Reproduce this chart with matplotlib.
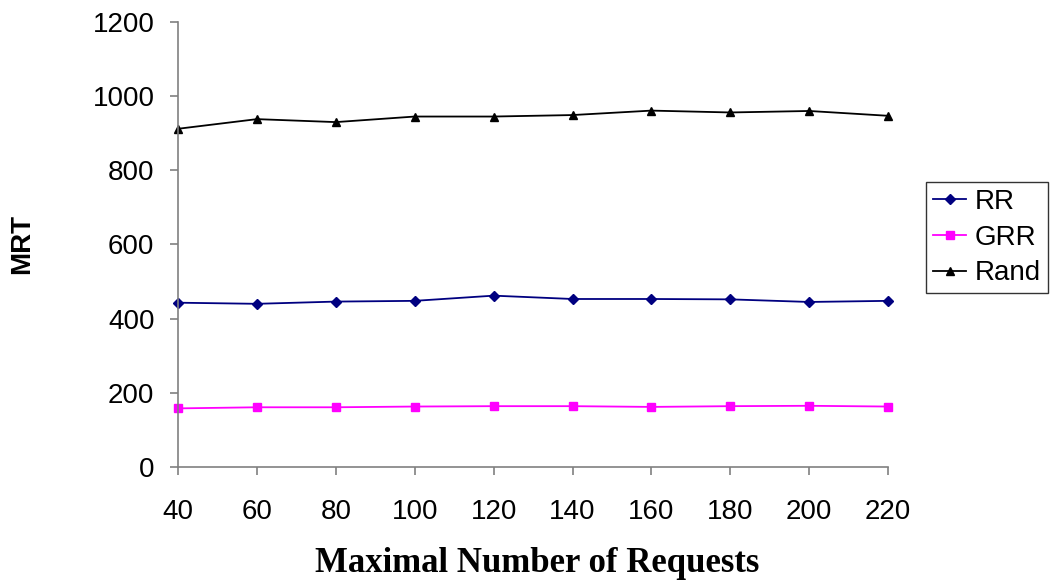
import matplotlib.pyplot as plt

plt.rcParams["font.family"] = ["Liberation Sans", "DejaVu Sans"]

requests = [40, 60, 80, 100, 120, 140, 160, 180, 200, 220]
rr = [443, 440, 446, 448, 462, 453, 453, 452, 445, 448]
grr = [158, 161, 161, 163, 164, 164, 162, 164, 165, 163]
rand = [912, 938, 930, 945, 945, 949, 961, 956, 960, 947]

y_ticks = [0, 200, 400, 600, 800, 1000, 1200]


def main():
    fig = plt.figure(figsize=(10.51, 5.86), dpi=100)
    ax = fig.add_axes([0.1694, 0.2031, 0.6756, 0.7594])

    ax.plot(requests, rr, color="#000080", marker="D", markersize=5,
            linewidth=1.3, label="RR", clip_on=False)
    ax.plot(requests, grr, color="#FF00FF", marker="s", markersize=6,
            linewidth=1.3, label="GRR", clip_on=False)
    ax.plot(requests, rand, color="black", marker="^", markersize=6,
            linewidth=1.3, label="Rand", clip_on=False)

    ax.set_xlim(40, 220)
    ax.set_ylim(0, 1200)
    ax.set_xticks(requests)
    ax.set_yticks(y_ticks)
    ax.tick_params(axis="both", labelsize=20, direction="out", length=6,
                   color="#808080", width=1.2)
    ax.tick_params(axis="x", pad=17)
    ax.tick_params(axis="y", pad=11)

    for side in ["top", "right"]:
        ax.spines[side].set_visible(False)
    for side in ["left", "bottom"]:
        ax.spines[side].set_color("#808080")
        ax.spines[side].set_linewidth(1.2)

    fig.text(22 / 1051, 1 - 244 / 586, "MRT", rotation=90, fontsize=20,
             fontweight="bold", ha="center", va="center")
    fig.text(537.5 / 1051, 14 / 586, "Maximal Number of Requests",
             fontsize=25, fontweight="bold", family="Liberation Serif",
             ha="center", va="baseline")

    leg = fig.legend(*ax.get_legend_handles_labels(), loc="upper left",
                     bbox_to_anchor=(926 / 1051, 1 - 182 / 586),
                     fontsize=20, frameon=True, fancybox=False,
                     borderpad=0.25, handlelength=1.2, handletextpad=0.3,
                     labelspacing=0.35, borderaxespad=0)
    leg.get_frame().set_edgecolor("black")
    leg.get_frame().set_linewidth(1.0)

    fig.savefig("out.png", dpi=100)
    plt.close(fig)


if __name__ == "__main__":
    main()
